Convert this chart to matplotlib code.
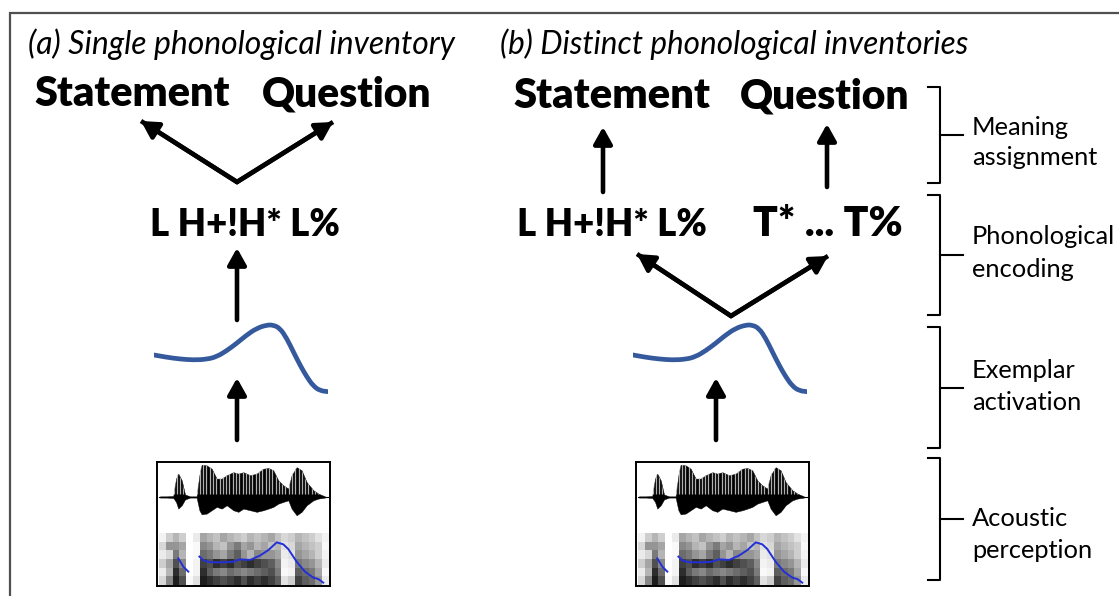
import matplotlib
matplotlib.use("Agg")
import matplotlib.pyplot as plt
import numpy as np
from matplotlib.path import Path
from matplotlib.patches import PathPatch

# ---------------- data ----------------
panel_titles = ["(a) Single phonological inventory", "(b) Distinct phonological inventories"]
meanings = ["Statement", "Question"]
tune_single = "L H+!H* L%"
tunes_distinct = ["L H+!H* L%", "T* ... T%"]
level_lines = [("Meaning", "assignment"), ("Phonological", "encoding"),
               ("Exemplar", "activation"), ("Acoustic", "perception")]

# stylised F0 contour (exemplar)
f0_t = [0, 12.7, 26, 39.3, 52.7, 62.7, 72.7, 82.7, 92.7, 102.7, 112.7, 119.3,
        126, 132.7, 139.3, 146, 152.7, 159.3, 166, 174.3]
f0_v = [45, 42.7, 41, 40, 40.7, 43.3, 49.3, 56.7, 65, 71.7, 75, 75, 71.7,
        61.7, 48.3, 35, 23.3, 14, 9.3, 8.3]

# waveform envelope (time 0-100, amplitude above / below centre)
wave_t = [1.7, 5.6, 9.4, 11.0, 12.3, 14.3, 16.2, 19.1, 22.9, 24.5, 25.8, 28.7,
          31.6, 34.5, 37.4, 40.3, 44.1, 47.0, 49.9, 53.8, 57.6, 61.5, 64.4,
          67.2, 70.1, 73.0, 75.9, 77.8, 80.7, 83.6, 86.5, 90.4, 93.3, 97.1]
wave_up = [0.5, 0.5, 0.8, 14.8, 18.8, 13.4, 2.0, 0.5, 0.5, 17.5, 26.0, 25.5,
           22.8, 14.8, 14.8, 17.5, 20.0, 18.8, 20.0, 17.5, 18.8, 22.8, 23.4,
           21.5, 13.4, 9.4, 6.7, 17.5, 24.0, 21.5, 12.0, 5.4, 2.7, 0.5]
wave_dn = [0.5, 0.5, 0.8, 4.0, 9.4, 6.7, 2.0, 0.5, 0.5, 10.7, 14.0, 13.4,
           10.7, 8.0, 9.4, 6.7, 10.7, 12.0, 9.4, 10.7, 12.0, 10.7, 9.4,
           8.0, 5.4, 4.0, 2.7, 9.4, 14.8, 12.0, 6.7, 2.7, 1.3, 0.5]

# spectrogram darkness (rows: high -> low frequency, columns: time bins of 4)
spec = np.array([
    [0.10, 0.30, 0.40, 0.30, 0.00, 0.15, 0.45, 0.40, 0.35, 0.45, 0.40, 0.35, 0.30, 0.40, 0.35, 0.40, 0.45, 0.35, 0.25, 0.30, 0.40, 0.35, 0.30, 0.20, 0.10],
    [0.25, 0.50, 0.50, 0.45, 0.00, 0.05, 0.55, 0.50, 0.40, 0.35, 0.50, 0.60, 0.45, 0.50, 0.40, 0.45, 0.35, 0.40, 0.20, 0.25, 0.45, 0.40, 0.35, 0.30, 0.05],
    [0.15, 0.25, 0.60, 0.40, 0.00, 0.05, 0.65, 0.60, 0.50, 0.45, 0.60, 0.70, 0.50, 0.40, 0.55, 0.50, 0.50, 0.45, 0.15, 0.20, 0.50, 0.45, 0.40, 0.30, 0.10],
    [0.30, 0.45, 0.75, 0.55, 0.00, 0.10, 0.80, 0.75, 0.85, 0.80, 0.85, 0.75, 0.80, 0.85, 0.80, 0.75, 0.70, 0.55, 0.10, 0.15, 0.60, 0.55, 0.50, 0.40, 0.15],
    [0.15, 0.40, 0.85, 0.65, 0.00, 0.10, 0.85, 0.70, 0.60, 0.55, 0.65, 0.60, 0.55, 0.60, 0.65, 0.70, 0.75, 0.60, 0.05, 0.10, 0.70, 0.65, 0.60, 0.45, 0.05],
    [0.25, 0.55, 0.90, 0.75, 0.05, 0.20, 0.90, 0.85, 0.80, 0.75, 0.80, 0.85, 0.75, 0.85, 0.80, 0.85, 0.80, 0.70, 0.20, 0.30, 0.80, 0.70, 0.65, 0.50, 0.15],
])

# pitch track over the spectrogram (time 0-100, height 0-42)
pitch_seg1_t = [12.3, 15.2, 18.1]
pitch_seg1_v = [22.3, 15.6, 11.6]
pitch_seg2_t = [24.5, 27.4, 31.6, 38.3, 44.1, 48.0, 53.8, 59.5, 64.4, 69.2,
                73.0, 75.9, 80.7, 85.5, 90.4, 93.3, 96.1]
pitch_seg2_v = [23.7, 20.2, 19.1, 19.1, 19.6, 21.5, 21.0, 24.5, 29.0, 35.2,
                33.6, 29.8, 19.6, 11.6, 6.7, 5.6, 2.7]

# ---------------- figure ----------------
W, H = 1119, 596
fig = plt.figure(figsize=(W / 100, H / 100), dpi=100)
ax = fig.add_axes([0, 0, 1, 1])
ax.set_xlim(0, W)
ax.set_ylim(H, 0)
ax.axis("off")
renderer = fig.canvas.get_renderer()
FONT = ["Lato", "DejaVu Sans"]


def fit_text(x0, x1, y, s, **kw):
    t = ax.text(x0, y, s, ha="left", va="baseline", fontsize=20, family=FONT, **kw)
    bb = t.get_window_extent(renderer)
    t.set_fontsize(20 * (x1 - x0) / bb.width)
    return t


def px_axes(left, top, right, bottom):
    return fig.add_axes([left / W, 1 - bottom / H, (right - left) / W, (bottom - top) / H])


def smooth_path(xs, ys):
    pts = np.column_stack([xs, ys])
    verts = [pts[0]]
    codes = [Path.MOVETO]
    for i in range(1, len(pts) - 1):
        verts += [pts[i], (pts[i] + pts[i + 1]) / 2]
        codes += [Path.CURVE3, Path.CURVE3]
    verts.append(pts[-1])
    codes.append(Path.LINETO)
    return Path(verts, codes)


AW = 3.3
HEAD = "-|>,head_length=0.5,head_width=0.28"


def arrow(tail, tip):
    ax.annotate("", xy=tip, xytext=tail,
                arrowprops=dict(arrowstyle=HEAD, lw=AW, color="black",
                                shrinkA=0, shrinkB=0, mutation_scale=20))


def vee(left_tip, apex, right_tip):
    ax.plot([left_tip[0], apex[0], right_tip[0]], [left_tip[1], apex[1], right_tip[1]],
            color="black", lw=AW, solid_joinstyle="miter", solid_capstyle="butt")
    arrow(apex, left_tip)
    arrow(apex, right_tip)


# outer frame
ax.plot([10, 10, W], [H, 13, 13], color="#505050", lw=1.6, solid_joinstyle="miter")

# titles
fit_text(28, 455, 54, panel_titles[0], style="italic")
fit_text(500, 968, 54, panel_titles[1], style="italic")

# meanings
BW = "heavy"
fit_text(34, 230, 106, meanings[0], weight=BW)
fit_text(262, 432, 106, meanings[1], weight=BW)
fit_text(513, 710, 108, meanings[0], weight=BW)
fit_text(740, 910, 108, meanings[1], weight=BW)

# tunes
fit_text(150, 340, 236, tune_single, weight=BW)
fit_text(517, 707, 236, tunes_distinct[0], weight=BW)
fit_text(753, 902, 236, tunes_distinct[1], weight=BW)

# arrows panel (a)
vee((141, 121), (237, 182), (333, 122))
arrow((237, 320), (237, 248))
arrow((237, 440), (237, 378))
# arrows panel (b)
arrow((603, 192), (603, 127))
arrow((827, 187), (827, 124))
vee((637, 254), (731, 316), (828, 256))
arrow((716, 440), (716, 378))

# F0 curves and acoustic boxes
for dx in (0, 479):
    a = px_axes(154 + dx, 300, 328.3 + dx, 400)
    a.set_xlim(0, 174.3)
    a.set_ylim(0, 100)
    a.axis("off")
    a.add_patch(PathPatch(smooth_path(f0_t, f0_v), facecolor="none",
                          edgecolor="#34599c", lw=3.4, capstyle="round"))

    b = px_axes(157 + dx, 462, 330 + dx, 586)
    b.set_xlim(0, 100)
    b.set_ylim(0, 100)
    b.set_xticks([])
    b.set_yticks([])
    for sp in b.spines.values():
        sp.set_linewidth(1.4)
        sp.set_color("black")
    b.imshow(spec, cmap="Greys", vmin=0, vmax=1, extent=(1, 99, 1, 42.7),
             aspect="auto", interpolation="nearest")
    centre = 71.8
    up = centre + np.array(wave_up)
    dn = centre - np.array(wave_dn)
    b.plot([1, 99], [centre, centre], color="black", lw=0.8)
    poly = b.fill_between(wave_t, dn, up, color="black", lw=0.3)
    stripes = b.vlines(np.arange(2, 98, 1.9), centre + 2, 99, color="#b0b0b0", lw=0.9)
    stripes.set_clip_path(poly.get_paths()[0], b.transData)
    b.plot(pitch_seg1_t, pitch_seg1_v, color="#2330d8", lw=1.4)
    b.plot(pitch_seg2_t, pitch_seg2_v, color="#2330d8", lw=1.4)

# level brackets
brackets = [(87, 183), (195, 315), (327, 448), (458, 580)]
for top, bot in brackets:
    mid = (top + bot) / 2
    ax.plot([928, 940, 940, 928], [top, top, bot, bot], color="black", lw=1.5,
            solid_joinstyle="round")
    ax.plot([940, 963], [mid, mid], color="black", lw=1.5)

label_base = [(135, 165), (244, 277), (378, 410), (526, 558)]
ref = fit_text(972, 1115, label_base[1][0], level_lines[1][0])
fs = ref.get_fontsize()
for i, ((l1, l2), (y1, y2)) in enumerate(zip(level_lines, label_base)):
    if i != 1:
        ax.text(972, y1, l1, ha="left", va="baseline", fontsize=fs, family=FONT)
    ax.text(972, y2, l2, ha="left", va="baseline", fontsize=fs, family=FONT)

fig.savefig("out.png", dpi=100)
